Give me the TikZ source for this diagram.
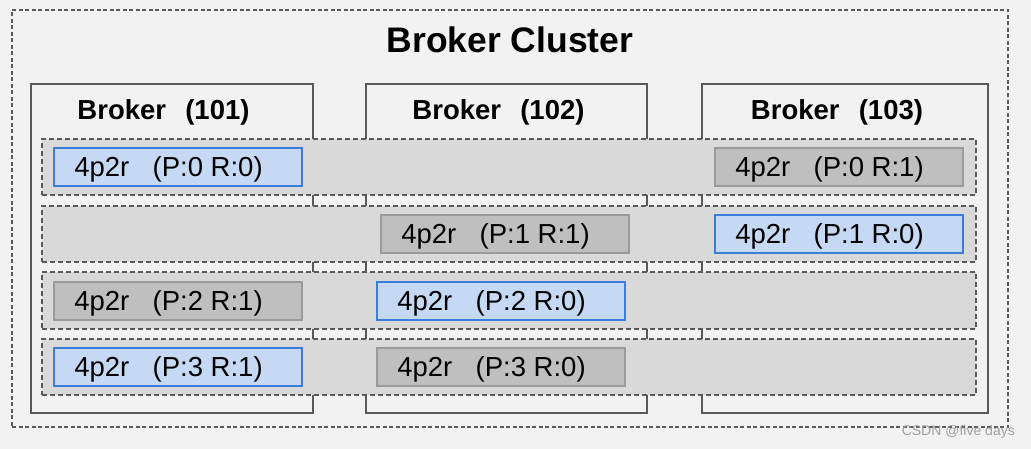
\documentclass[tikz,border=0pt]{standalone}
\usepackage{fontspec}
\setmainfont{Liberation Sans}
\definecolor{bgc}{HTML}{F2F2F2}
\definecolor{dashc}{HTML}{5A5A5A}
\definecolor{brokerc}{HTML}{595959}
\definecolor{bandc}{HTML}{D9D9D9}
\definecolor{leadfill}{HTML}{C6D9F4}
\definecolor{leadline}{HTML}{3C7DDC}
\definecolor{follfill}{HTML}{BFBFBF}
\definecolor{follline}{HTML}{9A9A9A}
\definecolor{wmark}{HTML}{A0A0A0}
\begin{document}
\begin{tikzpicture}[x=1pt,y=-1pt,
  box/.style={anchor=north west, inner sep=0pt, outer sep=0pt},
  outerbox/.style={box, draw=dashc, fill=bgc, line width=1.1pt, dash pattern=on 4pt off 2.5pt},
  brokerbox/.style={box, draw=brokerc, fill=bgc, line width=1.6pt},
  bandbox/.style={box, draw=dashc, fill=bandc, line width=1.1pt, dash pattern=on 5pt off 3pt},
  partbox/.style={box, minimum width=248pt, minimum height=38pt, line width=1.2pt,
     font=\fontsize{27.5}{30}\selectfont, text height=19.7pt, text depth=0pt},
  leadbox/.style={partbox, draw=leadline, fill=leadfill},
  follbox/.style={partbox, draw=follline, fill=follfill},
  blabel/.style={inner sep=0pt, font=\bfseries\fontsize{27.5}{30}\selectfont, text height=19.7pt, text depth=0pt},
  title/.style={inner sep=0pt, font=\bfseries\fontsize{35.5}{40}\selectfont, text height=25.4pt, text depth=0pt}
]
\newcommand{\pt}[2]{4p2r\hspace{0.85em}(P:#1 R:#2)\kern19pt}
\newcommand{\bk}[1]{Broker\hspace{0.7em}(#1)}
% background
\fill[bgc] (0,0) rectangle (1031,449);
\useasboundingbox (0,0) rectangle (1031,449);
% outer cluster
\node[outerbox, minimum width=996pt, minimum height=417pt] (cluster) at (12,10) {};
\node[title] (ttl) at (510,40) {Broker Cluster};
% brokers
\node[brokerbox, minimum width=282pt, minimum height=329pt] (b101) at (31,84) {};
\node[brokerbox, minimum width=281pt, minimum height=329pt] (b102) at (366,84) {};
\node[brokerbox, minimum width=286pt, minimum height=329pt] (b103) at (702,84) {};
\node[blabel] (l101) at (163.5,109.5) {\bk{101}};
\node[blabel] (l102) at (498.5,109.5) {\bk{102}};
\node[blabel] (l103) at (837,109.5) {\bk{103}};
% partition bands
\node[bandbox, minimum width=934pt, minimum height=56pt] (r0) at (42,139) {};
\node[bandbox, minimum width=934pt, minimum height=56pt] (r1) at (42,206) {};
\node[bandbox, minimum width=934pt, minimum height=57pt] (r2) at (42,272) {};
\node[bandbox, minimum width=934pt, minimum height=56pt] (r3) at (42,339) {};
% replicas
\node[leadbox] (p0r0) at (54,148) {\pt{0}{0}};
\node[follbox] (p0r1) at (715,148) {\pt{0}{1}};
\node[follbox] (p1r1) at (381,215) {\pt{1}{1}};
\node[leadbox] (p1r0) at (715,215) {\pt{1}{0}};
\node[follbox] (p2r1) at (54,282) {\pt{2}{1}};
\node[leadbox] (p2r0) at (377,282) {\pt{2}{0}};
\node[leadbox] (p3r1) at (54,348) {\pt{3}{1}};
\node[follbox] (p3r0) at (377,348) {\pt{3}{0}};
% watermark
\node[inner sep=0pt, text=wmark, font=\fontsize{14}{16}\selectfont, anchor=east] (wm) at (1015,432) {CSDN @five days};
\end{tikzpicture}
\end{document}
